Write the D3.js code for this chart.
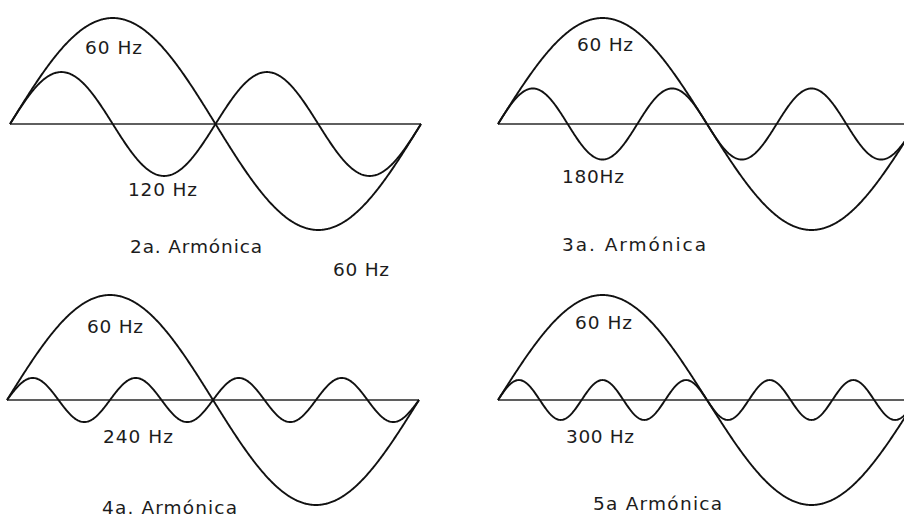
<!DOCTYPE html>
<html>
<head>
<meta charset="utf-8">
<script src="https://cdn.jsdelivr.net/npm/d3@7/dist/d3.min.js"></script>
<style>
  html, body { margin: 0; padding: 0; background: #fff; }
  svg { display: block; }
  text { font-family: "DejaVu Sans", "Liberation Sans", sans-serif; font-size: 18.5px; fill: #1c1c1c; }
</style>
</head>
<body>
<svg id="chart" width="904" height="518"></svg>
<script>
// Fundamental (60 Hz) against one harmonic per panel
const harmonicOrder = [2, 3, 4, 5];
const fundamentalLabels = ["60 Hz", "60 Hz", "60 Hz", "60 Hz"];
const harmonicLabels = ["120 Hz", "180Hz", "240 Hz", "300 Hz"];
const panelTitles = ["2a. Armónica", "3a. Armónica", "4a. Armónica", "5a Armónica"];
const fundamentalAmplitude = [1, 1, 1, 1];
const harmonicAmplitude = [0.49, 0.335, 0.21, 0.19];
const fundamentalCycles = 1;

// Panel geometry: wave span, axis baseline, peak size, axis extent, label spots
const panels = [
  { x0: 10,  x1: 421, axisY: 124, amp: 106, axisEnd: 421,
    fLab: [85, 54, 57], hLab: [128, 196, 69], tLab: [130, 253, 132], extra: [333, 276, 56] },
  { x0: 498, x1: 916, axisY: 124, amp: 106, axisEnd: 904,
    fLab: [577, 51, 56], hLab: [562, 183, 62], tLab: [562, 251, 144] },
  { x0: 7,   x1: 419, axisY: 400, amp: 105, axisEnd: 419,
    fLab: [87, 333, 56], hLab: [103, 443, 70], tLab: [102, 514, 135] },
  { x0: 498, x1: 916, axisY: 400, amp: 105, axisEnd: 904,
    fLab: [575, 329, 57], hLab: [566, 443, 68], tLab: [593, 510, 129] }
];

const svg = d3.select("#chart");
const samples = d3.range(0, 1.0001, 1 / 600);

panels.forEach((p, i) => {
  const x = d3.scaleLinear().domain([0, 1]).range([p.x0, p.x1]);
  const y = d3.scaleLinear().domain([-1, 1]).range([p.axisY + p.amp, p.axisY - p.amp]);
  const g = svg.append("g");

  // zero line
  g.append("line")
    .attr("x1", x(0)).attr("x2", p.axisEnd)
    .attr("y1", y(0)).attr("y2", y(0))
    .attr("stroke", "#2a2a2a").attr("stroke-width", 1.3);

  const line = d3.line().x(d => x(d[0])).y(d => y(d[1])).curve(d3.curveLinear);

  const fund = samples.map(t => [t, fundamentalAmplitude[i] * Math.sin(2 * Math.PI * fundamentalCycles * t)]);
  const harm = samples.map(t => [t, harmonicAmplitude[i] * Math.sin(2 * Math.PI * harmonicOrder[i] * t)]);

  g.append("path").attr("d", line(fund))
    .attr("fill", "none").attr("stroke", "#111").attr("stroke-width", 1.9);
  g.append("path").attr("d", line(harm))
    .attr("fill", "none").attr("stroke", "#111").attr("stroke-width", 1.9);

  const label = (txt, spec) => g.append("text")
    .attr("x", spec[0]).attr("y", spec[1])
    .attr("textLength", spec[2]).attr("lengthAdjust", "spacing")
    .text(txt);

  label(fundamentalLabels[i], p.fLab);
  label(harmonicLabels[i], p.hLab);
  label(panelTitles[i], p.tLab);
  if (p.extra) label(fundamentalLabels[i], p.extra);
});
</script>
</body>
</html>
